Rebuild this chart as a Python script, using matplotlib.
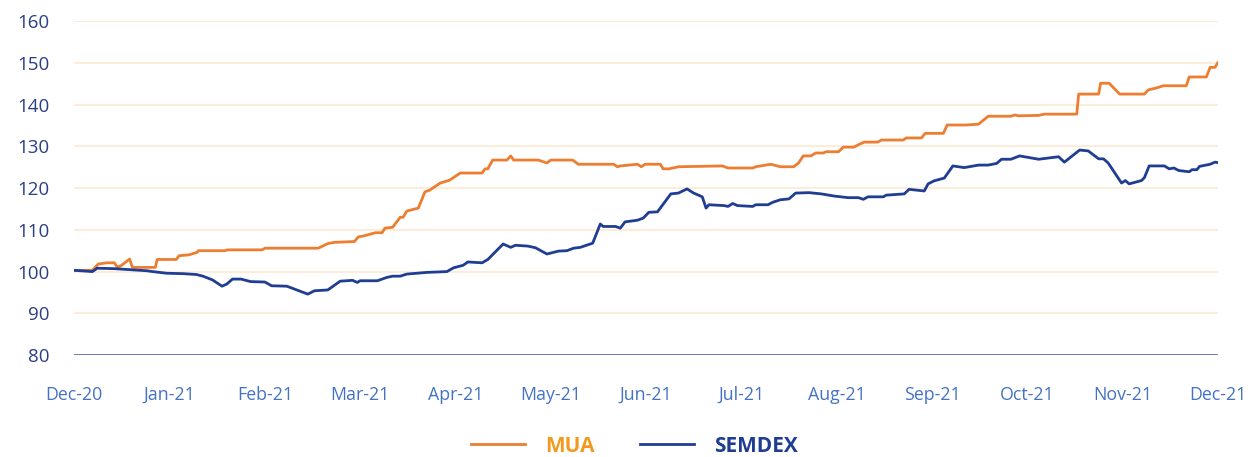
import matplotlib
matplotlib.use("Agg")
import matplotlib.pyplot as plt
from matplotlib.lines import Line2D

# ---- data (x in months since Dec-20) ----
month_labels = ["Dec-20", "Jan-21", "Feb-21", "Mar-21", "Apr-21", "May-21", "Jun-21",
                "Jul-21", "Aug-21", "Sep-21", "Oct-21", "Nov-21", "Dec-21"]

mua_x = [0.0, 0.19, 0.25, 0.34, 0.42, 0.45, 0.49, 0.58, 0.61, 0.85, 0.87, 1.07, 1.10, 1.20,
         1.29, 1.30, 1.58, 1.61, 1.97, 2.00, 2.56, 2.66, 2.73, 2.94, 2.98, 3.03, 3.16, 3.23,
         3.26, 3.34, 3.42, 3.45, 3.49, 3.61, 3.68, 3.73, 3.84, 3.94, 4.05, 4.28, 4.31, 4.34,
         4.39, 4.54, 4.58, 4.61, 4.87, 4.96, 5.00, 5.23, 5.29, 5.66, 5.70, 5.73, 5.91, 5.95,
         5.99, 6.15, 6.18, 6.24, 6.34, 6.80, 6.86, 7.12, 7.15, 7.31, 7.41, 7.55, 7.60, 7.65,
         7.73, 7.78, 7.86, 7.89, 8.02, 8.07, 8.18, 8.24, 8.29, 8.43, 8.47, 8.70, 8.73, 8.89,
         8.93, 9.12, 9.16, 9.36, 9.49, 9.59, 9.83, 9.87, 9.91, 10.12, 10.18, 10.52, 10.54,
         10.75, 10.77, 10.86, 10.97, 11.23, 11.27, 11.36, 11.43, 11.67, 11.70, 11.88, 11.92,
         11.97, 12.0]
mua_y = [100.3, 100.3, 101.8, 102.1, 102.1, 101.1, 101.4, 103.0, 101.0, 101.0, 102.9, 102.9,
         103.8, 104.0, 104.6, 105.0, 105.0, 105.2, 105.2, 105.6, 105.6, 106.7, 107.0, 107.2,
         108.3, 108.5, 109.3, 109.3, 110.4, 110.6, 113.0, 113.0, 114.5, 115.2, 119.1, 119.5,
         121.2, 121.9, 123.6, 123.6, 124.6, 124.6, 126.7, 126.7, 127.7, 126.7, 126.7, 126.0,
         126.7, 126.7, 125.7, 125.7, 125.1, 125.3, 125.7, 125.1, 125.7, 125.7, 124.6, 124.6,
         125.1, 125.3, 124.8, 124.8, 125.1, 125.7, 125.1, 125.1, 126.0, 127.7, 127.7, 128.4,
         128.4, 128.7, 128.7, 129.8, 129.8, 130.5, 131.0, 131.0, 131.5, 131.5, 132.0, 132.0,
         133.1, 133.1, 135.1, 135.1, 135.3, 137.2, 137.2, 137.5, 137.3, 137.4, 137.7, 137.7,
         142.5, 142.5, 145.1, 145.1, 142.5, 142.5, 143.5, 144.0, 144.5, 144.5, 146.6, 146.6,
         148.9, 148.9, 150.0]

semdex_x = [0.0, 0.19, 0.24, 0.42, 0.76, 0.82, 0.97, 1.14, 1.28, 1.35, 1.45, 1.55, 1.60, 1.66,
            1.75, 1.85, 2.00, 2.07, 2.23, 2.45, 2.52, 2.66, 2.71, 2.79, 2.92, 2.97, 3.00, 3.18,
            3.28, 3.34, 3.42, 3.49, 3.70, 3.91, 3.98, 4.08, 4.13, 4.28, 4.34, 4.50, 4.58, 4.63,
            4.76, 4.84, 4.96, 5.08, 5.17, 5.24, 5.31, 5.44, 5.52, 5.55, 5.68, 5.73, 5.78, 5.91,
            5.97, 6.03, 6.12, 6.26, 6.34, 6.43, 6.50, 6.59, 6.63, 6.66, 6.82, 6.86, 6.91, 6.96,
            7.12, 7.15, 7.28, 7.33, 7.41, 7.50, 7.57, 7.71, 7.84, 7.97, 8.12, 8.23, 8.28, 8.33,
            8.49, 8.52, 8.71, 8.76, 8.92, 8.96, 9.02, 9.13, 9.22, 9.34, 9.49, 9.59, 9.68, 9.73,
            9.83, 9.92, 10.12, 10.33, 10.39, 10.55, 10.64, 10.75, 10.80, 10.85, 10.99, 11.03,
            11.07, 11.20, 11.23, 11.28, 11.44, 11.49, 11.54, 11.59, 11.70, 11.73, 11.78, 11.81,
            11.92, 11.97, 12.0]
semdex_y = [100.3, 100.0, 100.8, 100.7, 100.2, 100.0, 99.6, 99.5, 99.3, 98.9, 98.0, 96.5, 97.0,
            98.2, 98.2, 97.6, 97.5, 96.6, 96.5, 94.6, 95.4, 95.6, 96.4, 97.7, 97.9, 97.4, 97.8,
            97.8, 98.6, 98.9, 98.9, 99.4, 99.8, 100.0, 100.9, 101.5, 102.3, 102.1, 102.9, 106.6,
            105.8, 106.3, 106.1, 105.7, 104.2, 104.9, 105.0, 105.6, 105.8, 106.8, 111.4, 110.8,
            110.8, 110.4, 111.9, 112.3, 112.8, 114.2, 114.3, 118.6, 118.8, 119.8, 118.8, 117.9,
            115.2, 116.0, 115.8, 115.6, 116.3, 115.8, 115.6, 116.0, 116.0, 116.6, 117.2, 117.4,
            118.8, 118.9, 118.6, 118.1, 117.7, 117.7, 117.3, 117.9, 117.9, 118.3, 118.6, 119.7,
            119.3, 121.0, 121.7, 122.4, 125.3, 124.9, 125.5, 125.5, 125.9, 126.9, 126.9, 127.7,
            126.9, 127.5, 126.2, 129.1, 128.9, 127.0, 127.0, 126.0, 121.2, 121.8, 121.0, 121.8,
            122.5, 125.3, 125.3, 124.6, 124.8, 124.2, 123.9, 124.4, 124.4, 125.2, 125.7, 126.2,
            126.1]

y_ticks = [80, 90, 100, 110, 120, 130, 140, 150, 160]

# ---- style ----
MUA_C = "#ED7D31"
SEM_C = "#1F3D92"
YTICK_C = "#2B3F85"
XTICK_C = "#4472C4"
GRID_C = "#FDE9CF"
FONT = ["Open Sans", "DejaVu Sans"]

plt.rcParams["font.family"] = FONT

fig = plt.figure(figsize=(12.49, 4.57), dpi=100)
ax = fig.add_axes([0.0595, 0.223, 0.9155, 0.731])

ax.plot(mua_x, mua_y, color=MUA_C, lw=2.0, solid_joinstyle="round", zorder=3)
ax.plot(semdex_x, semdex_y, color=SEM_C, lw=2.0, solid_joinstyle="round", zorder=3)

ax.set_ylim(80, 160)
ax.set_xlim(0, 12)
ax.set_yticks(y_ticks)
ax.set_xticks(range(len(month_labels)))
ax.set_xticklabels(month_labels)

for v in y_ticks[1:]:
    ax.axhline(v, color=GRID_C, lw=1.2, zorder=1)
ax.axhline(80, color="#5A6FAE", lw=1.3, zorder=2)

for s in ax.spines.values():
    s.set_visible(False)

ax.tick_params(axis="y", length=0, pad=18, labelsize=13.5, labelcolor=YTICK_C)
ax.tick_params(axis="x", length=0, pad=22, labelsize=12.8, labelcolor=XTICK_C)

handles = [Line2D([], [], color=MUA_C, lw=2.0), Line2D([], [], color=SEM_C, lw=2.0)]
leg = fig.legend(handles, ["MUA", "SEMDEX"], loc="center", bbox_to_anchor=(0.508, 0.024),
                 ncol=2, frameon=False, handlelength=2.6, handletextpad=0.95,
                 columnspacing=2.2, prop={"family": FONT, "size": 15, "weight": "bold"})
leg.get_texts()[0].set_color("#F29A1F")
leg.get_texts()[1].set_color(SEM_C)

fig.savefig("out.png", dpi=100)
